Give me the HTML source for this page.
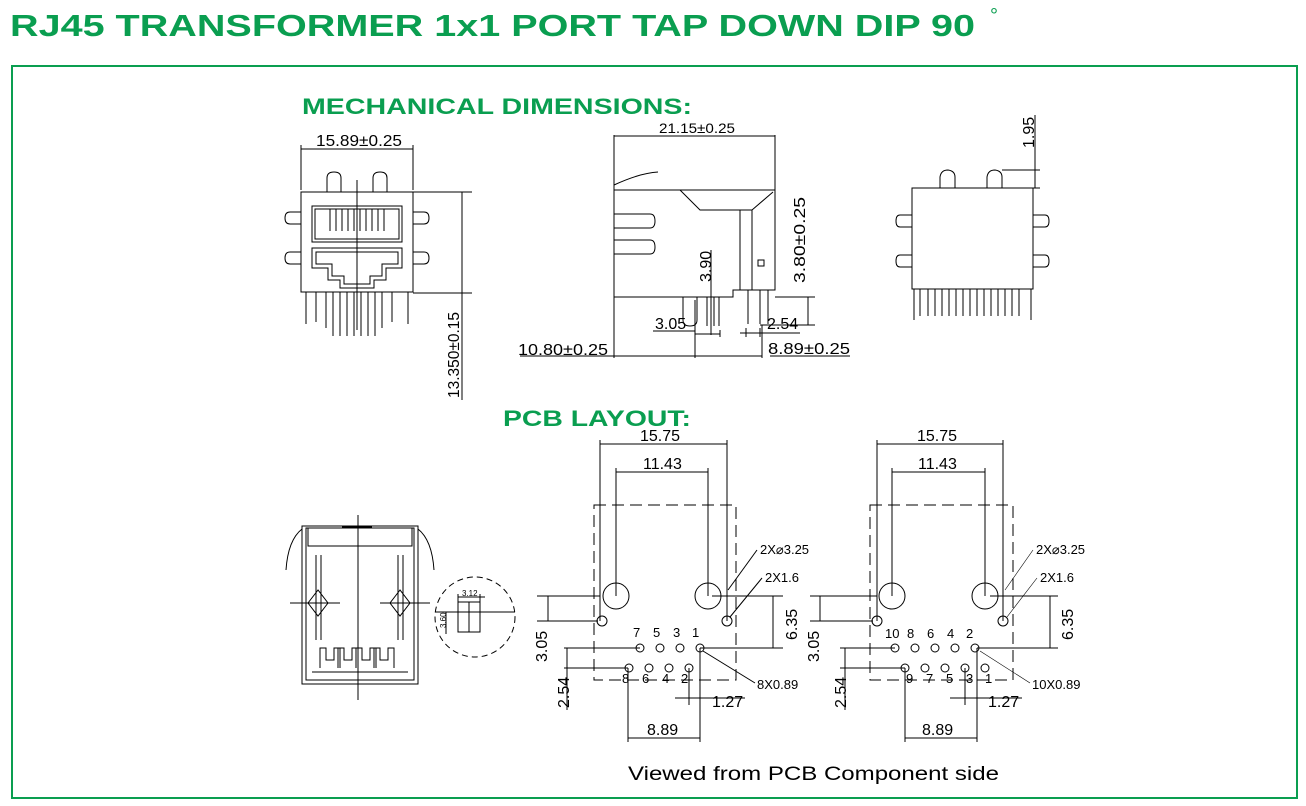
<!DOCTYPE html>
<html><head><meta charset="utf-8"><style>
html,body{margin:0;padding:0;background:#fff;}
svg{display:block;}
.t{font-family:"Liberation Sans",sans-serif;}
</style></head><body>
<svg width="1306" height="806" viewBox="0 0 1306 806" xmlns="http://www.w3.org/2000/svg">
<rect width="1306" height="806" fill="#fff"/>
<text x="10" y="36" class="t" font-size="31" font-weight="bold" fill="#0a9e50" textLength="965" lengthAdjust="spacingAndGlyphs">RJ45 TRANSFORMER 1x1 PORT TAP DOWN DIP 90</text>
<text x="990" y="22" class="t" font-size="20" fill="#0a9e50">°</text>
<rect x="12" y="66" width="1285" height="732" fill="none" stroke="#0a9e50" stroke-width="2"/>
<text x="302" y="114" class="t" font-size="22" font-weight="bold" fill="#0a9e50" textLength="390" lengthAdjust="spacingAndGlyphs">MECHANICAL DIMENSIONS:</text>
<text x="503" y="426" class="t" font-size="22" font-weight="bold" fill="#0a9e50" textLength="188" lengthAdjust="spacingAndGlyphs">PCB LAYOUT:</text>

<g fill="none" stroke="#000" stroke-width="1" class="t">
<!-- FRONT VIEW -->
<rect x="301" y="192" width="112" height="100"/>
<line x1="301" y1="145" x2="301" y2="190"/><line x1="413" y1="145" x2="413" y2="190"/>
<line x1="301" y1="149" x2="413" y2="149"/>
<line x1="413" y1="192" x2="472" y2="192"/><line x1="413" y1="293" x2="472" y2="293"/>
<line x1="462" y1="192" x2="462" y2="400"/>
<path d="M327 192 V178 Q327 172 334 172 Q341 172 341 178 V192 M373 192 V178 Q373 172 380 172 Q387 172 387 178 V192"/>
<path d="M301 212 H290 Q285 212 285 218 Q285 224 290 224 H301 M301 252 H290 Q285 252 285 258 Q285 264 290 264 H301"/>
<path d="M413 212 H424 Q429 212 429 218 Q429 224 424 224 H413 M413 252 H424 Q429 252 429 258 Q429 264 424 264 H413"/>
<rect x="312" y="206" width="90" height="36"/>
<rect x="315" y="209" width="84" height="30"/>
<path d="M330 209 v22 M336 209 v22 M342 209 v22 M348 209 v22 M354 209 v22 M360 209 v22 M366 209 v22 M372 209 v22 M378 209 v22 M384 209 v22"/>
<path d="M312 248 H402 V268 H386 V280 H374 V288 H340 V280 H328 V268 H312 Z"/>
<path d="M316 252 H398 V264 H382 V276 H370 V284 H344 V276 H332 V264 H316 Z"/>
<line x1="357" y1="180" x2="357" y2="330"/>
<path d="M306 292 v32 M316 292 v30 M326 292 v36 M333 292 v44 M340 292 v44 M347 292 v44 M354 292 v44 M361 292 v44 M368 292 v44 M375 292 v44 M382 292 v36 M392 292 v30 M408 292 v32"/>
<!-- SIDE VIEW -->
<path d="M614 190 H775 V290 H733 V297 H614 Z"/>
<line x1="614" y1="135" x2="614" y2="358"/><line x1="775" y1="135" x2="775" y2="190"/>
<line x1="614" y1="136" x2="775" y2="136"/>
<path d="M680 190 L700 210 H752 L773 192"/>
<path d="M740 210 V290 M752 210 V290"/>
<path d="M614 185 Q640 173 658 172"/>
<path d="M614 214 H650 Q655 214 655 221 Q655 228 650 228 H614 M614 240 H650 Q655 240 655 247 Q655 254 650 254 H614"/>
<rect x="758" y="260" width="6" height="6"/>
<path d="M683 297 V320 Q683 326 690 326 Q697 326 697 320 V297 M707 297 V326 M714 297 V326 M719 297 V326"/>
<path d="M748 290 V324 M760 290 V324 M768 290 V324"/>
<line x1="775" y1="297" x2="815" y2="297"/><line x1="760" y1="325" x2="815" y2="325"/>
<line x1="808" y1="297" x2="808" y2="325"/>
<line x1="711" y1="250" x2="711" y2="335"/>
<line x1="695" y1="300" x2="695" y2="358"/>
<line x1="720" y1="330" x2="720" y2="337"/>
<line x1="695" y1="334" x2="720" y2="334"/>
<line x1="746" y1="328" x2="746" y2="337"/><line x1="760" y1="328" x2="760" y2="337"/>
<line x1="740" y1="333" x2="800" y2="333"/>
<line x1="614" y1="356" x2="695" y2="356"/><line x1="695" y1="356" x2="762" y2="356"/>
<line x1="762" y1="325" x2="762" y2="358"/>
<line x1="520" y1="356" x2="614" y2="356"/>
<line x1="653" y1="331" x2="695" y2="331"/>
<line x1="770" y1="356" x2="850" y2="356"/>
<!-- RIGHT VIEW -->
<rect x="912" y="188" width="121" height="101"/>
<path d="M940 188 V177 Q941 170 948 170 Q955 171 955 177 V188 M987 188 V177 Q988 170 995 170 Q1002 171 1002 177 V188"/>
<path d="M912 215 H900 Q896 215 896 221 Q896 227 900 227 H912 M912 255 H900 Q896 255 896 261 Q896 267 900 267 H912"/>
<path d="M1033 215 H1045 Q1049 215 1049 221 Q1049 227 1045 227 H1033 M1033 255 H1045 Q1049 255 1049 261 Q1049 267 1045 267 H1033"/>
<path d="M1002 170 H1040 M1002 188 H1040 M1035 115 V188"/>
<path d="M914 289 V320 M920 289 V316 M928 289 V316 M935 289 V316 M942 289 V316 M949 289 V316 M956 289 V316 M963 289 V316 M970 289 V316 M977 289 V316 M984 289 V316 M991 289 V316 M998 289 V316 M1005 289 V316 M1012 289 V316 M1019 289 V316 M1031 289 V320"/>
<!-- ISO VIEW -->
<rect x="302" y="526" width="116" height="158"/>
<rect x="306" y="528" width="108" height="152"/>
<rect x="308" y="528" width="104" height="18"/>
<line x1="342" y1="527" x2="372" y2="527" stroke-width="2"/>
<path d="M302 529 Q288 540 286 570 M418 529 Q432 540 434 570"/>
<line x1="358" y1="515" x2="358" y2="700"/>
<path d="M316 555 V640 M321 555 V640 M398 555 V640 M403 555 V640"/>
<path d="M290 603 H340 M380 603 H430"/>
<path d="M318 590 L308 603 L318 616 L328 603 Z M400 590 L390 603 L400 616 L410 603 Z"/>
<path d="M320 668 V648 H326 V660 H334 V648 H340 V668 M338 668 V648 H344 V660 H352 V648 H358 V668 M356 668 V648 H362 V660 H370 V648 H376 V668 M374 668 V648 H380 V660 H388 V648 H394 V668"/>
<line x1="312" y1="672" x2="408" y2="672"/>
<circle cx="475" cy="617" r="40" stroke-dasharray="6,4"/>
<line x1="435" y1="612" x2="515" y2="612"/>
<rect x="458" y="602" width="22" height="30"/>
<line x1="469" y1="602" x2="469" y2="632"/>
<path d="M458 602 V594 M480 602 V594 M458 597 H485"/>
<line x1="446" y1="612" x2="446" y2="634"/>
<!-- PCB LEFT -->
<path d="M594 505 H736 V680 H594 Z" stroke-dasharray="12,6"/>
<circle cx="616" cy="596" r="13"/><circle cx="708" cy="596" r="13"/>
<circle cx="602" cy="621" r="5"/><circle cx="727" cy="621" r="5"/>
<line x1="600" y1="440" x2="600" y2="621"/><line x1="727" y1="440" x2="727" y2="621"/>
<line x1="600" y1="444" x2="727" y2="444"/>
<line x1="616" y1="468" x2="616" y2="596"/><line x1="708" y1="468" x2="708" y2="596"/>
<line x1="616" y1="472" x2="708" y2="472"/>
<line x1="537" y1="596" x2="600" y2="596"/><line x1="537" y1="621" x2="598" y2="621"/>
<line x1="548" y1="596" x2="548" y2="621"/>
<line x1="712" y1="596" x2="783" y2="596"/><line x1="700" y1="648" x2="783" y2="648"/>
<line x1="773" y1="596" x2="773" y2="648"/>
<line x1="564" y1="648" x2="640" y2="648"/><line x1="564" y1="668" x2="628" y2="668"/>
<line x1="567" y1="648" x2="567" y2="710"/>
<line x1="628" y1="668" x2="628" y2="742"/><line x1="700" y1="648" x2="700" y2="742"/>
<line x1="689" y1="668" x2="689" y2="705"/>
<line x1="628" y1="738" x2="700" y2="738"/>
<line x1="675" y1="698" x2="745" y2="698"/>
<line x1="757" y1="550" x2="728" y2="590"/><line x1="762" y1="578" x2="730" y2="617"/>
<line x1="755" y1="683" x2="703" y2="651"/>
<!-- PCB RIGHT -->
<path d="M870 505 H1013 V680 H870 Z" stroke-dasharray="12,6"/>
<circle cx="892" cy="596" r="13"/><circle cx="985" cy="596" r="13"/>
<circle cx="877" cy="621" r="5"/><circle cx="1003" cy="621" r="5"/>
<line x1="877" y1="440" x2="877" y2="621"/><line x1="1003" y1="440" x2="1003" y2="621"/>
<line x1="877" y1="444" x2="1003" y2="444"/>
<line x1="892" y1="468" x2="892" y2="596"/><line x1="985" y1="468" x2="985" y2="596"/>
<line x1="892" y1="472" x2="985" y2="472"/>
<line x1="810" y1="596" x2="877" y2="596"/><line x1="810" y1="621" x2="873" y2="621"/>
<line x1="820" y1="596" x2="820" y2="621"/>
<line x1="990" y1="596" x2="1058" y2="596"/><line x1="977" y1="648" x2="1058" y2="648"/>
<line x1="1050" y1="596" x2="1050" y2="648"/>
<line x1="840" y1="648" x2="895" y2="648"/><line x1="840" y1="668" x2="905" y2="668"/>
<line x1="845" y1="648" x2="845" y2="710"/>
<line x1="905" y1="668" x2="905" y2="742"/><line x1="977" y1="648" x2="977" y2="742"/>
<line x1="965" y1="668" x2="965" y2="705"/>
<line x1="905" y1="738" x2="977" y2="738"/>
<line x1="950" y1="698" x2="1022" y2="698"/>
<line x1="1033" y1="550" x2="1005" y2="590" stroke-width="0.6"/><line x1="1037" y1="578" x2="1007" y2="617" stroke-width="0.6"/>
<line x1="1030" y1="683" x2="980" y2="651" stroke-width="0.6"/>
</g>
<g fill="#000" stroke="none">
<g fill="none" stroke="#000">
<circle cx="640" cy="648" r="4"/><circle cx="660" cy="648" r="4"/><circle cx="680" cy="648" r="4"/><circle cx="700" cy="648" r="4"/>
<circle cx="629" cy="668" r="4"/><circle cx="649" cy="668" r="4"/><circle cx="669" cy="668" r="4"/><circle cx="689" cy="668" r="4"/>
<circle cx="895" cy="648" r="4"/><circle cx="915" cy="648" r="4"/><circle cx="935" cy="648" r="4"/><circle cx="955" cy="648" r="4"/><circle cx="975" cy="648" r="4"/>
<circle cx="905" cy="668" r="4"/><circle cx="925" cy="668" r="4"/><circle cx="945" cy="668" r="4"/><circle cx="965" cy="668" r="4"/><circle cx="985" cy="668" r="4"/>
</g>
</g>
<g class="t" font-size="16" fill="#000">
<text x="316" y="146" textLength="86" lengthAdjust="spacingAndGlyphs">15.89±0.25</text>
<text x="659" y="133" font-size="14" textLength="76" lengthAdjust="spacingAndGlyphs">21.15±0.25</text>
<text transform="translate(459,398) rotate(-90)" textLength="86" lengthAdjust="spacingAndGlyphs">13.350±0.15</text>
<text transform="translate(805,283) rotate(-90)" textLength="86" lengthAdjust="spacingAndGlyphs">3.80±0.25</text>
<text transform="translate(711,282) rotate(-90)">3.90</text>
<text transform="translate(1034,148) rotate(-90)">1.95</text>
<text x="655" y="329">3.05</text>
<text x="767" y="329">2.54</text>
<text x="518" y="355" textLength="90" lengthAdjust="spacingAndGlyphs">10.80±0.25</text>
<text x="768" y="354" textLength="82" lengthAdjust="spacingAndGlyphs">8.89±0.25</text>
<text x="640" y="441">15.75</text><text x="643" y="469">11.43</text>
<text x="917" y="441">15.75</text><text x="918" y="469">11.43</text>
<text transform="translate(547,662) rotate(-90)">3.05</text>
<text transform="translate(797,640) rotate(-90)">6.35</text>
<text transform="translate(569,708) rotate(-90)">2.54</text>
<text x="712" y="707">1.27</text><text x="647" y="735">8.89</text>
<text transform="translate(819,662) rotate(-90)">3.05</text>
<text transform="translate(1073,640) rotate(-90)">6.35</text>
<text transform="translate(846,708) rotate(-90)">2.54</text>
<text x="988" y="707">1.27</text><text x="922" y="735">8.89</text>
<g font-size="13">
<text x="760" y="554">2X⌀3.25</text><text x="765" y="582">2X1.6</text><text x="757" y="689">8X0.89</text>
<text x="1036" y="554">2X⌀3.25</text><text x="1040" y="582">2X1.6</text><text x="1032" y="689">10X0.89</text>
<text x="633" y="637">7</text><text x="653" y="637">5</text><text x="673" y="637">3</text><text x="692" y="637">1</text>
<text x="622" y="683">8</text><text x="642" y="683">6</text><text x="662" y="683">4</text><text x="681" y="683">2</text>
<text x="885" y="638">10</text><text x="907" y="638">8</text><text x="927" y="638">6</text><text x="947" y="638">4</text><text x="966" y="638">2</text>
<text x="906" y="683">9</text><text x="926" y="683">7</text><text x="946" y="683">5</text><text x="966" y="683">3</text><text x="985" y="683">1</text>
</g>
<text x="462" y="596" font-size="8">3.12</text>
<text transform="translate(446,628) rotate(-90)" font-size="8">3.60</text>
<text x="628" y="780" font-size="19" textLength="371" lengthAdjust="spacingAndGlyphs">Viewed from PCB Component side</text>
</g>
</svg>
</body></html>
